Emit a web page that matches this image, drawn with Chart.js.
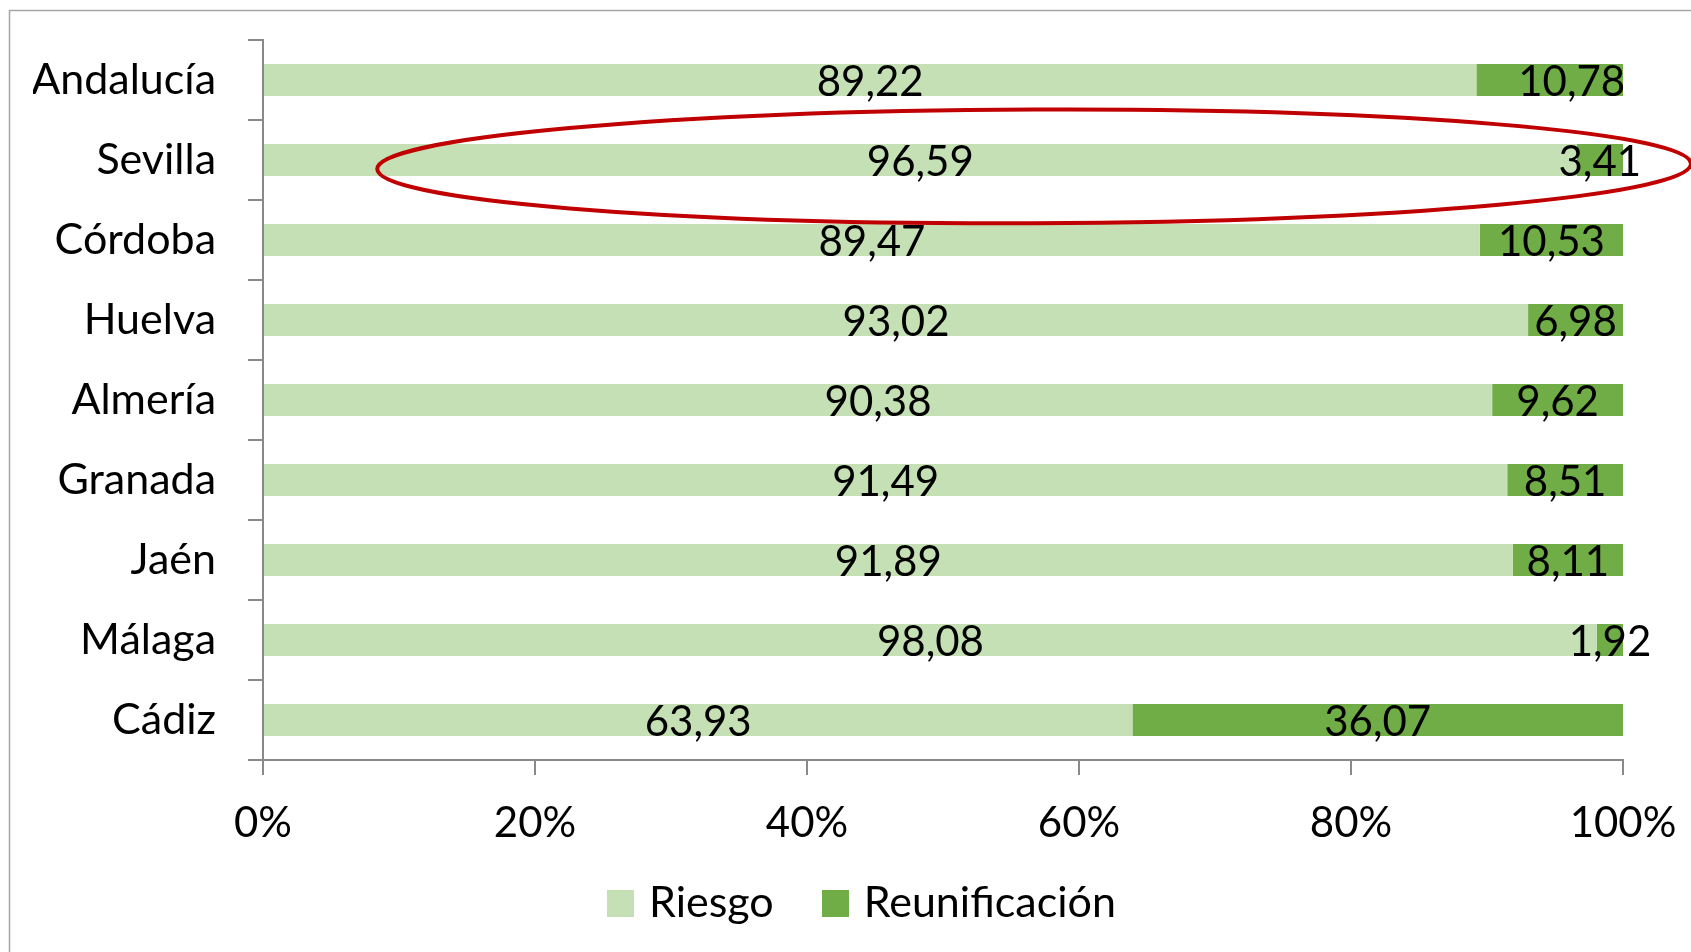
<!DOCTYPE html>
<html>
<head>
<meta charset="utf-8">
<style>
  html, body { margin: 0; padding: 0; background: #ffffff; }
  #wrap { position: relative; width: 1691px; height: 952px; }
  canvas { display: block; }
</style>
<script src="https://cdn.jsdelivr.net/npm/chart.js@4/dist/chart.umd.min.js"></script>
</head>
<body>
<div id="wrap"><canvas id="c" width="1691" height="952"></canvas></div>
<script>
const categories = ["Andalucía", "Sevilla", "Córdoba", "Huelva", "Almería", "Granada", "Jaén", "Málaga", "Cádiz"];
const riesgo = [89.22, 96.59, 89.47, 93.02, 90.38, 91.49, 91.89, 98.08, 63.93];
const reunificacion = [10.78, 3.41, 10.53, 6.98, 9.62, 8.51, 8.11, 1.92, 36.07];
const seriesNames = ["Riesgo", "Reunificación"];
const seriesColors = ["#c5e0b4", "#70ad47"];
const xTickValues = [0, 20, 40, 60, 80, 100];

const FONT = "Lato, 'Open Sans', sans-serif";
const AXIS_COLOR = "#898989";

function swatch(color) {
  const c = document.createElement("canvas");
  c.width = 27; c.height = 27;
  const g = c.getContext("2d");
  g.fillStyle = color;
  g.fillRect(0, 0, 27, 27);
  return c;
}
const swatches = seriesColors.map(swatch);

const frame = {
  id: "frame",
  beforeDraw(chart) {
    const ctx = chart.ctx;
    ctx.save();
    ctx.fillStyle = "#ffffff";
    ctx.fillRect(0, 0, chart.width, chart.height);
    ctx.strokeStyle = "#a6a6a6";
    ctx.lineWidth = 1.5;
    ctx.beginPath();
    ctx.moveTo(9.5, chart.height);
    ctx.lineTo(9.5, 10.5);
    ctx.lineTo(chart.width, 10.5);
    ctx.stroke();
    ctx.restore();
  }
};

// small layout adjustments after Chart.js has placed its boxes
const layoutTweaks = {
  id: "layoutTweaks",
  afterLayout(chart, args, opts) {
    const xs = chart.scales.x;
    xs.bottom = chart.height;            // let tick labels draw below the scale box
    const lg = chart.legend;
    if (lg) { lg.left += opts.legendShift; lg.right += opts.legendShift; }
  }
};

const valueLabels = {
  id: "valueLabels",
  afterDatasetsDraw(chart, args, opts) {
    const ctx = chart.ctx;
    ctx.save();
    ctx.font = "42px " + FONT;
    ctx.fillStyle = "#000000";
    ctx.textAlign = "center";
    ctx.textBaseline = "middle";
    chart.data.datasets.forEach((ds, di) => {
      const meta = chart.getDatasetMeta(di);
      meta.data.forEach((el, i) => {
        const c = el.getCenterPoint();
        const txt = ds.data[i].toFixed(2).replace(".", ",");
        let dx = 0;
        (opts.nudges || []).forEach(n => { if (n.dataset === di && n.index === i) dx = n.dx; });
        ctx.fillText(txt, c.x + dx, c.y + 2);
      });
    });
    ctx.restore();
  }
};

const highlight = {
  id: "highlight",
  afterDraw(chart, args, opts) {
    const xs = chart.scales.x, ys = chart.scales.y;
    const idx = categories.indexOf(opts.category);
    const catH = (ys.bottom - ys.top) / categories.length;
    const x1 = xs.getPixelForValue(opts.xFrom);
    const x2 = xs.getPixelForValue(opts.xTo);
    const cx = (x1 + x2) / 2, rx = (x2 - x1) / 2;
    const cy = ys.getPixelForValue(idx) + opts.yOffset * catH;
    const ry = opts.halfHeight * catH;
    const ctx = chart.ctx;
    ctx.save();
    ctx.strokeStyle = "#c00000";
    ctx.lineWidth = 4;
    ctx.beginPath();
    ctx.ellipse(cx, cy, rx, ry, opts.rotation, 0, Math.PI * 2);
    ctx.stroke();
    ctx.restore();
  }
};

new Chart(document.getElementById("c"), {
  type: "bar",
  data: {
    labels: categories,
    datasets: [
      { label: seriesNames[0], data: riesgo, backgroundColor: seriesColors[0], borderWidth: 0 },
      { label: seriesNames[1], data: reunificacion, backgroundColor: seriesColors[1], borderWidth: 0 }
    ]
  },
  plugins: [frame, layoutTweaks, valueLabels, highlight],
  options: {
    indexAxis: "y",
    responsive: false,
    animation: false,
    devicePixelRatio: 1,
    layout: { padding: { left: 33, top: 40, right: 68, bottom: 17.5 } },
    datasets: { bar: { categoryPercentage: 1.0, barPercentage: 0.4 } },
    scales: {
      x: {
        stacked: true,
        min: 0,
        max: 100,
        afterBuildTicks(scale) { scale.ticks = xTickValues.map(v => ({ value: v })); },
        afterFit(scale) { scale.height = 67; scale.paddingLeft = 0; scale.paddingRight = 0; },
        grid: { drawOnChartArea: false, drawTicks: true, tickLength: 15, color: AXIS_COLOR, lineWidth: 2 },
        border: { display: true, color: AXIS_COLOR, width: 2 },
        ticks: {
          color: "#000000",
          padding: 23,
          font: { family: FONT, size: 42 },
          callback: v => v + "%",
          maxRotation: 0
        }
      },
      y: {
        stacked: true,
        afterFit(scale) { scale.width = 230; scale.paddingTop = 0; scale.paddingBottom = 0; },
        grid: { drawOnChartArea: false, drawTicks: true, tickLength: 15, color: AXIS_COLOR, lineWidth: 2, offset: true },
        border: { display: true, color: AXIS_COLOR, width: 2 },
        ticks: {
          color: "#000000",
          padding: 32,
          font: { family: FONT, size: 43 }
        }
      }
    },
    plugins: {
      legend: {
        position: "bottom",
        labels: {
          color: "#000000",
          font: { family: FONT, size: 43 },
          usePointStyle: true,
          pointStyleWidth: 14,
          boxHeight: 27,
          padding: 54.5,
          generateLabels(chart) {
            const items = Chart.defaults.plugins.legend.labels.generateLabels(chart);
            items.forEach((it, i) => { it.pointStyle = swatches[i]; });
            return items;
          }
        }
      },
      tooltip: { enabled: false },
      layoutTweaks: { legendShift: 36.75 },
      valueLabels: { nudges: [{ dataset: 1, index: 0, dx: 22 }] },
      highlight: { category: "Sevilla", xFrom: 8.4, xTo: 105, yOffset: 0.08, halfHeight: 0.71, rotation: -0.004 }
    }
  }
});
</script>
</body>
</html>
